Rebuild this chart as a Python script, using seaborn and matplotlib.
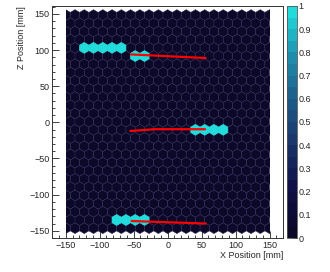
import numpy as np
import pandas as pd
import seaborn as sns
import matplotlib.pyplot as plt
from matplotlib.colors import LinearSegmentedColormap
from matplotlib.patches import Rectangle
from matplotlib.ticker import MultipleLocator, AutoMinorLocator

sns.set_style("ticks")
plt.rcParams['font.family'] = ['Liberation Sans', 'DejaVu Sans']

# hit cells (x, z) in mm, each one count
hit_x = [-121, -108, -95, -82, -68, -48, -34,
         41, 55, 68, 82,
         -75, -61, -48, -34]
hit_z = [100, 100, 100, 100, 100, 92, 92,
         -10, -10, -10, -10,
         -135, -135, -135, -135]

# fitted tracks
track_id = [0, 0, 1, 1, 1, 2, 2]
track_x = [-54, 56, -55, -20, 55, -53, 56]
track_z = [94, 89, -12, -9.5, -9.5, -136.5, -140]

# detector geometry
x_ext = (-150, 150)
z_ext = (-146.4, 148.4)
grid = (22, 13)

cmap = LinearSegmentedColormap.from_list(
    "det", ["#0b0828", "#0f0f48", "#1a3468", "#1d5b88", "#1f8fae", "#22dcdc"],
    N=20)

fig = plt.figure(figsize=(3.3, 2.72), dpi=100)
ax = fig.add_axes([0.158, 0.125, 0.700, 0.853])
cax = fig.add_axes([0.870, 0.125, 0.030, 0.853])

extent = (x_ext[0], x_ext[1], z_ext[0], z_ext[1])
clip = Rectangle((x_ext[0], -200), x_ext[1] - x_ext[0], 400,
                 transform=ax.transData)

# all cells (empty ones are 0)
hb = ax.hexbin(hit_x, hit_z, gridsize=grid, extent=extent,
               cmap=cmap, vmin=0, vmax=1,
               edgecolors="#2c2a5a", linewidths=0.35)
hb.set_clip_path(clip)
# hit cells again, without the cell outline
hh = ax.hexbin(hit_x, hit_z, gridsize=grid, extent=extent, mincnt=1,
               cmap=cmap, vmin=0, vmax=1,
               edgecolors="face", linewidths=0.4)
hh.set_clip_path(clip)

df = pd.DataFrame({"track": track_id, "x": track_x, "z": track_z})
for _, g in df.groupby("track"):
    sns.lineplot(data=g, x="x", y="z", color="red", lw=1.6, sort=False,
                 estimator=None, ax=ax)

ax.set_xlim(-170, 170)
ax.set_ylim(-160, 161)
ax.xaxis.set_major_locator(MultipleLocator(50))
ax.yaxis.set_major_locator(MultipleLocator(50))
ax.xaxis.set_minor_locator(AutoMinorLocator(5))
ax.yaxis.set_minor_locator(AutoMinorLocator(5))
ax.tick_params(which="both", direction="in", labelsize=6.5, pad=2,
               width=0.6, color="#222222")
ax.tick_params(which="major", length=5)
ax.tick_params(which="minor", length=2.5)
for s in ax.spines.values():
    s.set_linewidth(0.7)
    s.set_color("#333333")

ax.set_xlabel("X Position [mm]", loc="right", fontsize=6.5, labelpad=1)
ax.set_ylabel("Z Position [mm]", loc="top", fontsize=6.5, labelpad=2)

cb = fig.colorbar(hb, cax=cax, ticks=np.arange(0, 1.01, 0.1))
cb.ax.set_yticklabels(["0", "0.1", "0.2", "0.3", "0.4", "0.5", "0.6",
                       "0.7", "0.8", "0.9", "1"])
cb.ax.tick_params(labelsize=6.5, length=3, width=0.6, pad=1, direction="in")
cb.outline.set_linewidth(0.6)
cb.outline.set_edgecolor("#555555")

fig.savefig("out.png", dpi=100)
